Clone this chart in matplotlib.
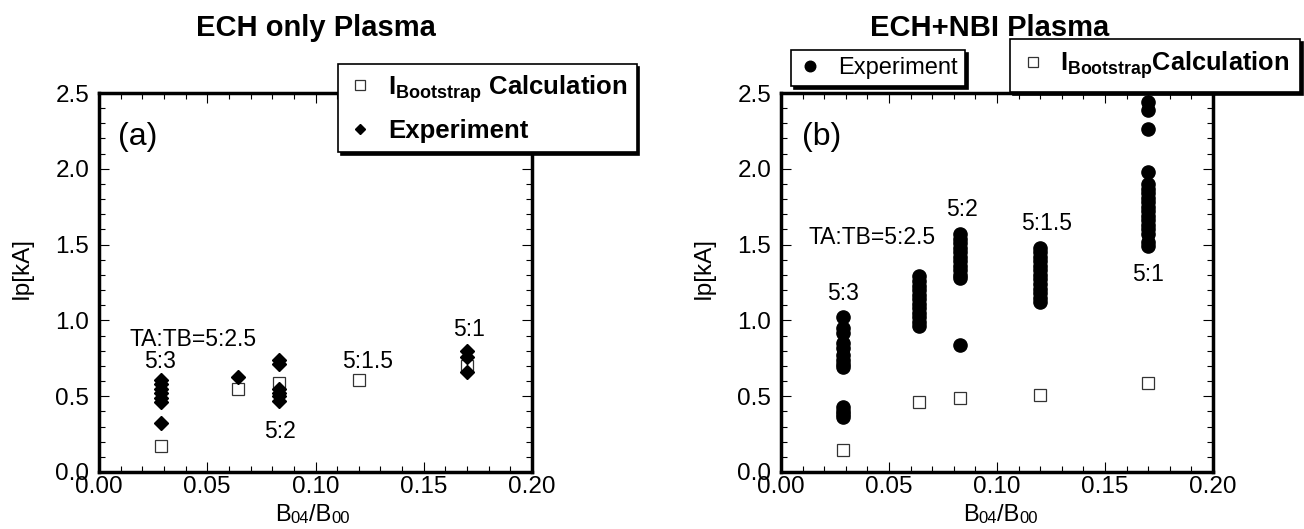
import numpy as np
import matplotlib
matplotlib.use('Agg')
import matplotlib.pyplot as plt
from matplotlib.ticker import MultipleLocator, FormatStrFormatter

plt.rcParams['font.family'] = ['Liberation Sans', 'DejaVu Sans']
plt.rcParams['mathtext.fontset'] = 'custom'
plt.rcParams['mathtext.rm'] = 'Liberation Sans'
plt.rcParams['mathtext.bf'] = 'Liberation Sans:bold'

# B04/B00 for each coil current ratio TA:TB
b04_b00 = [0.0285, 0.064, 0.083, 0.12, 0.17]
ratio_names = ['5:3', 'TA:TB=5:2.5', '5:2', '5:1.5', '5:1']

# bootstrap current calculation [kA]
calc_ech = [0.17, 0.545, 0.59, 0.61, 0.70]
calc_nbi = [0.145, 0.46, 0.49, 0.51, 0.585]

# measured plasma current [kA], one list per ratio
exp_ech = [
    [0.61, 0.58, 0.55, 0.52, 0.49, 0.46, 0.32],
    [0.625],
    [0.74, 0.71, 0.55, 0.52, 0.50, 0.47],
    [],
    [0.80, 0.76, 0.66],
]
exp_nbi = [
    [1.02, 0.95, 0.92, 0.85, 0.82, 0.77, 0.74, 0.71, 0.69, 0.43, 0.40, 0.38, 0.36],
    [1.29, 1.26, 1.23, 1.20, 1.17, 1.14, 1.11, 1.08, 1.05, 1.02, 0.99, 0.96],
    [1.57, 1.54, 1.51, 1.48, 1.45, 1.42, 1.39, 1.36, 1.33, 1.30, 1.28, 0.84],
    [1.48, 1.45, 1.42, 1.39, 1.36, 1.33, 1.30, 1.27, 1.24, 1.21, 1.18, 1.15, 1.12],
    [2.44, 2.39, 2.26, 1.98, 1.90, 1.87, 1.84, 1.81, 1.78, 1.75, 1.72, 1.69, 1.66,
     1.63, 1.60, 1.57, 1.52, 1.49],
]

# where the ratio names sit in each panel (data coords)
label_pos_ech = [(0.0282, 0.726), (0.0434, 0.877), (0.0836, 0.264), (0.124, 0.726), (0.171, 0.94)]
label_pos_nbi = [(0.0287, 1.18), (0.042, 1.544), (0.0838, 1.73), (0.123, 1.636), (0.170, 1.30)]

W, H = 1304, 529


def flatten(xs, groups):
    fx = [x for x, ys in zip(xs, groups) for _ in ys]
    fy = [y for ys in groups for y in ys]
    return fx, fy


def style_axes(ax):
    ax.set_xlim(0, 0.2)
    ax.set_ylim(0, 2.5)
    ax.set_xticks([0, 0.05, 0.10, 0.15, 0.20])
    ax.set_yticks([0, 0.5, 1.0, 1.5, 2.0, 2.5])
    ax.xaxis.set_major_formatter(FormatStrFormatter('%.2f'))
    ax.yaxis.set_major_formatter(FormatStrFormatter('%.1f'))
    ax.xaxis.set_minor_locator(MultipleLocator(0.01))
    ax.yaxis.set_minor_locator(MultipleLocator(0.1))
    ax.tick_params(which='both', direction='in', top=True, right=True, width=0.8)
    ax.tick_params(which='major', length=7, labelsize=17.5)
    ax.tick_params(which='minor', length=4)
    ax.tick_params(axis='x', pad=3)
    ax.tick_params(axis='y', pad=7)
    for sp in ax.spines.values():
        sp.set_linewidth(2.5)
    ax.set_ylabel('Ip[kA]', fontsize=17.5)
    ax.yaxis.set_label_coords(-66 / 433, 0.538)


def ratio_xlabel(ax, x0):
    # B04/B00 with small digits sitting on the line
    t = ax.text(x0, -0.143, 'B', transform=ax.transAxes, fontsize=17, va='bottom', ha='left')
    for s, fs in [('04', 12), ('/B', 17), ('00', 12)]:
        t = ax.annotate(s, xy=(1, 0), xycoords=t, fontsize=fs, va='bottom', ha='left')


fig = plt.figure(figsize=(W / 100, H / 100), dpi=100)
ax_a = fig.add_axes([99 / W, 1 - 472 / H, 433 / W, 379 / H])
ax_b = fig.add_axes([781 / W, 1 - 472 / H, 432 / W, 379 / H])

calc_style = dict(linestyle='none', marker='s', markersize=8.5, markerfacecolor='white',
                  markeredgecolor='#333333', markeredgewidth=0.9)
shadow = {'color': 'black', 'alpha': 1}

# (a) ECH only
style_axes(ax_a)
ex, ey = flatten(b04_b00, exp_ech)
h_calc_a, = ax_a.plot(b04_b00, calc_ech, zorder=3, **calc_style)
h_exp_a, = ax_a.plot(ex, ey, linestyle='none', marker='D', markersize=7,
                     color='black', zorder=4)
for name, (x, y) in zip(ratio_names, label_pos_ech):
    ax_a.text(x, y, name, fontsize=16.5, ha='center', va='center')
ax_a.text(0.009, 2.21, '(a)', fontsize=23, ha='left', va='center')
ax_a.text(0.5, 1.172, 'ECH only Plasma', transform=ax_a.transAxes, fontsize=21,
          fontweight='bold', ha='center', va='center')
ratio_xlabel(ax_a, 0.406)

leg_a = ax_a.legend([h_calc_a, h_exp_a],
                    [r'$\mathbf{I}_{\mathbf{Bootstrap}}$ Calculation', 'Experiment'],
                    loc='upper left',
                    bbox_to_anchor=(338 / W, 1 - 64 / H), bbox_transform=fig.transFigure,
                    borderaxespad=0, fancybox=False, shadow=shadow,
                    edgecolor='black', framealpha=1, prop={'weight': 'bold', 'size': 18.5},
                    handlelength=1.0, handletextpad=0.6, borderpad=0.35, labelspacing=0.55,
                    markerscale=0.8)
leg_a.get_frame().set_linewidth(1.2)

# (b) ECH+NBI
style_axes(ax_b)
ex, ey = flatten(b04_b00, exp_nbi)
h_calc_b, = ax_b.plot(b04_b00, calc_nbi, zorder=3, **calc_style)
h_exp_b, = ax_b.plot(ex, ey, linestyle='none', marker='o', markersize=9.5,
                     color='black', zorder=4)
for name, (x, y) in zip(ratio_names, label_pos_nbi):
    ax_b.text(x, y, name, fontsize=16.5, ha='center', va='center')
ax_b.text(0.0097, 2.21, '(b)', fontsize=23, ha='left', va='center')
ax_b.text(0.484, 1.172, 'ECH+NBI Plasma', transform=ax_b.transAxes, fontsize=21,
          fontweight='bold', ha='center', va='center')
ratio_xlabel(ax_b, 0.421)

leg_b1 = ax_b.legend([h_exp_b], ['Experiment'], loc='upper left',
                     bbox_to_anchor=(791 / W, 1 - 50 / H), bbox_transform=fig.transFigure,
                     borderaxespad=0, fancybox=False, shadow=shadow,
                     edgecolor='black', framealpha=1, prop={'size': 17},
                     handlelength=1.0, handletextpad=0.7, borderpad=0.3, markerscale=0.8)
leg_b1.get_frame().set_linewidth(1.2)
ax_b.add_artist(leg_b1)
leg_b2 = ax_b.legend([h_calc_b], [r'$\mathbf{I}_{\mathbf{Bootstrap}}$Calculation'],
                     loc='upper left',
                     bbox_to_anchor=(1010 / W, 1 - 39 / H), bbox_transform=fig.transFigure,
                     borderaxespad=0, fancybox=False, shadow=shadow,
                     edgecolor='black', framealpha=1, prop={'weight': 'bold', 'size': 18.3},
                     handlelength=1.0, handletextpad=0.55, borderpad=0.42, markerscale=0.8)
leg_b2.get_frame().set_linewidth(1.2)

fig.savefig('out.png', dpi=100)
